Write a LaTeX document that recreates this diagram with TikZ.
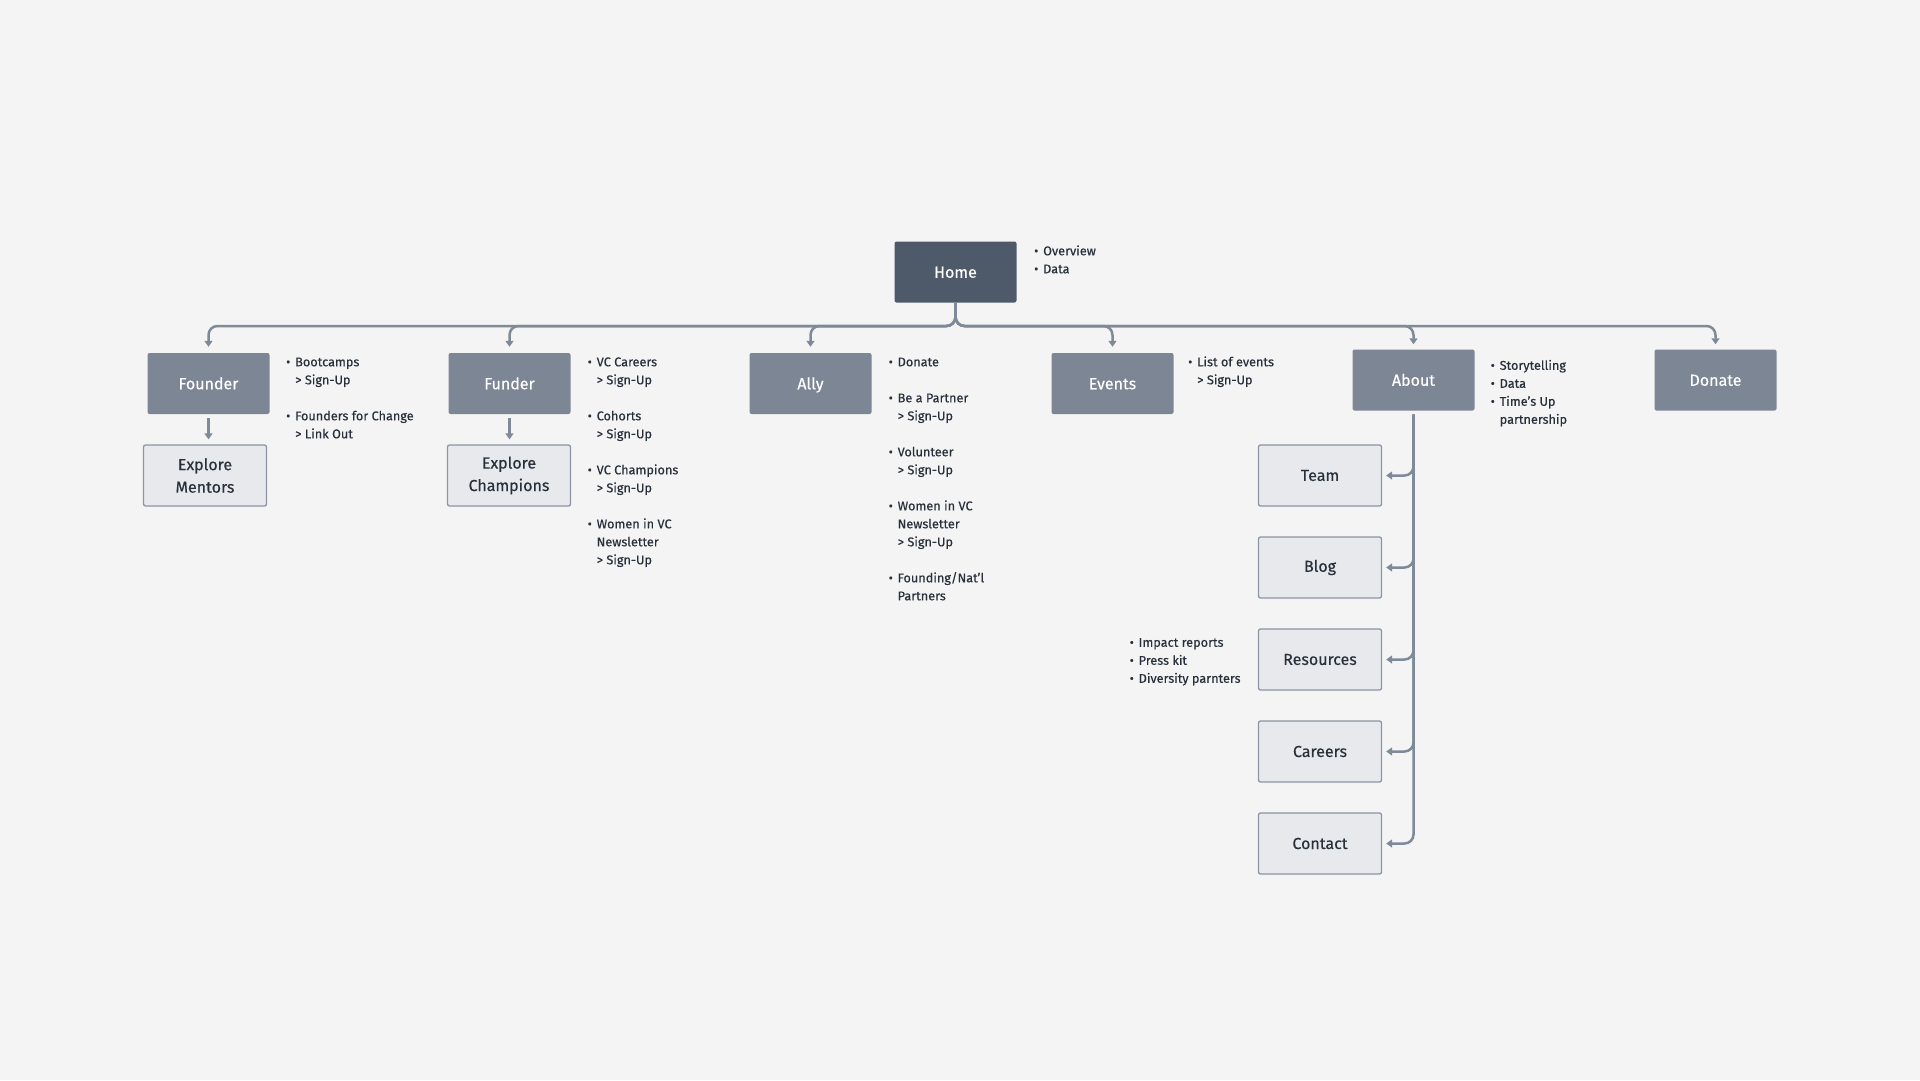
\documentclass[tikz,border=0pt]{standalone}
\usepackage{fontspec}
\setmainfont{Fira Sans}[FakeBold=0.35]
\usetikzlibrary{arrows.meta,calc}
\definecolor{bg}{HTML}{F4F4F4}
\definecolor{homec}{HTML}{4E5A6A}
\definecolor{topc}{HTML}{7C8695}
\definecolor{subfill}{HTML}{E7E9ED}
\definecolor{subdraw}{HTML}{8C95A2}
\definecolor{linec}{HTML}{7F8A99}
\definecolor{txt}{HTML}{28303B}
\newcommand\bul{\strut\makebox[9pt][l]{•}}
\newcommand\ind{\strut\hspace*{9pt}}
\begin{document}
\begin{tikzpicture}[x=1pt,y=-1pt,
  topbox/.style={fill=topc, minimum width=122pt, minimum height=61pt, inner sep=0pt,
    rounded corners=2pt, text=white, font=\fontsize{16}{20}\selectfont,
    text height=11.5pt, text depth=0pt},
  homebox/.style={topbox, fill=homec},
  subbox/.style={fill=subfill, draw=subdraw, line width=1.3pt, minimum width=123pt,
    minimum height=61pt, inner sep=0pt, rounded corners=2pt, text=txt, align=center,
    font=\fontsize{16}{22.5}\selectfont},
  note/.style={anchor=north west, inner sep=0pt, align=left, text=txt,
    font=\fontsize{12.7}{18}\selectfont},
  conn/.style={draw=linec, line width=2.5pt, rounded corners=9pt},
  tip/.style={-{Triangle[width=8pt,length=6pt]}}]
\useasboundingbox[fill=bg] (0,0) rectangle (1920,1080);

% main nodes
\node[homebox] (home) at (955.5,272) {Home};
\node[topbox] (founder) at (208.5,383.5) {Founder};
\node[topbox] (funder) at (509.5,383.5) {Funder};
\node[topbox] (ally) at (810.5,383.5) {Ally};
\node[topbox] (events) at (1112.5,383.5) {Events};
\node[topbox] (about) at (1413.5,380) {About};
\node[topbox] (donate) at (1715.5,380) {Donate};

% sub nodes
\node[subbox] (mentors) at (205,475.5) {Explore\\Mentors};
\node[subbox] (champions) at (509,475.5) {Explore\\Champions};
\node[subbox] (team) at (1320,475.5) {Team};
\node[subbox] (blog) at (1320,567.5) {Blog};
\node[subbox] (resources) at (1320,659.5) {Resources};
\node[subbox] (careers) at (1320,751.5) {Careers};
\node[subbox] (contact) at (1320,843.5) {Contact};

% notes
\node[note] (homenotes) at (1034,242.5) {\bul Overview\\ \bul Data};
\node[note] (foundernotes) at (286,353.5) {\bul Bootcamps\\ \ind > Sign-Up\\ \strut\\ \bul Founders for Change\\ \ind > Link Out};
\node[note] (fundernotes) at (587.5,353.5) {\bul VC Careers\\ \ind > Sign-Up\\ \strut\\ \bul Cohorts\\ \ind > Sign-Up\\ \strut\\ \bul VC Champions\\ \ind > Sign-Up\\ \strut\\ \bul Women in VC\\ \ind Newsletter\\ \ind > Sign-Up};
\node[note] (allynotes) at (888.5,353.5) {\bul Donate\\ \strut\\ \bul Be a Partner\\ \ind > Sign-Up\\ \strut\\ \bul Volunteer\\ \ind > Sign-Up\\ \strut\\ \bul Women in VC\\ \ind Newsletter\\ \ind > Sign-Up\\ \strut\\ \bul Founding/Nat'l\\ \ind Partners};
\node[note] (eventnotes) at (1188,353.5) {\bul List of events\\ \ind > Sign-Up};
\node[note] (aboutnotes) at (1490.5,357) {\bul Storytelling\\ \bul Data\\ \bul Time's Up\\ \ind partnership};
\node[note] (resnotes) at (1129.5,634) {\bul Impact reports\\ \bul Press kit\\ \bul Diversity parnters};

% connectors from Home
\coordinate (bus) at (955.5,326);
\foreach \c/\g in {founder/6,funder/6,ally/6,events/6,about/5,donate/5}
  \draw[conn,tip] (home.south) |- (bus -| \c) -- ([yshift=\g pt]\c.north);

% down arrows
\draw[conn,tip] ([yshift=-4pt]founder.south) -- ($(founder.south |- mentors.north)+(0,-5)$);
\draw[conn,tip] ([yshift=-4pt]funder.south) -- ($(funder.south |- champions.north)+(0,-5)$);

% About branches
\coordinate (astart) at ([yshift=-4pt]about.south);
\foreach \c in {team,blog,resources,careers,contact}
  \draw[conn,tip] (astart) |- ([xshift=4pt]\c.east);
\end{tikzpicture}
\end{document}
